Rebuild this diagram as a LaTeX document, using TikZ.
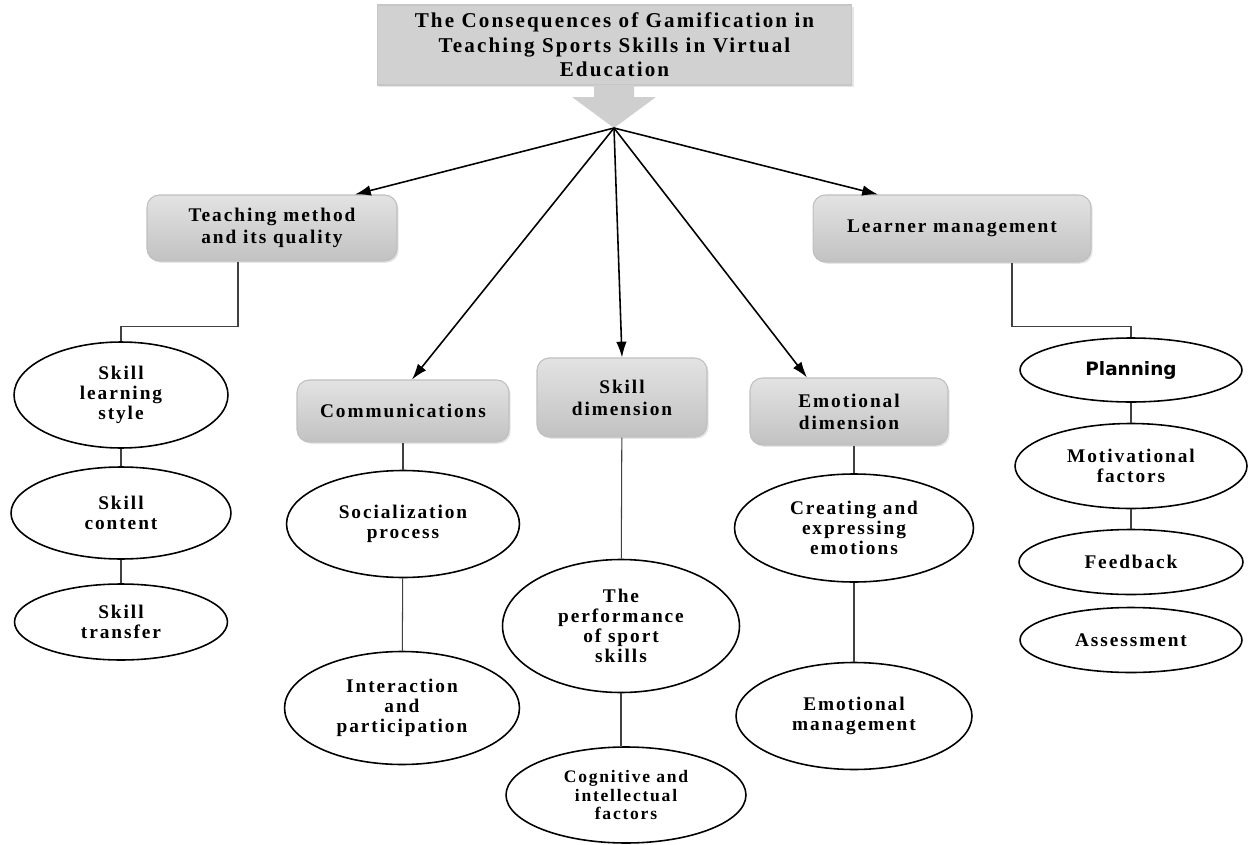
\documentclass[tikz,border=0pt]{standalone}
\usepackage{fontspec}
\setmainfont{Liberation Serif}[LetterSpace=10]
\newfontfamily\plainsans{DejaVu Sans}
\usetikzlibrary{shapes,arrows.meta,shadows}

\begin{document}
\begin{tikzpicture}[x=0.02cm,y=-0.02cm,
  mainbox/.style={shape=rectangle,draw=gray!45,fill=gray!36,align=center,inner sep=2pt,line width=0.6pt,
    font=\bfseries\fontsize{12}{14}\selectfont,drop shadow={opacity=0.2,shadow xshift=1pt,shadow yshift=-1pt}},
  dimbox/.style={shape=rectangle,rounded corners=7pt,draw=gray!50,top color=gray!22,bottom color=gray!48,align=center,line width=0.6pt,
    font=\bfseries\fontsize{11}{12.5}\selectfont,drop shadow={opacity=0.2,shadow xshift=1pt,shadow yshift=-1pt}},
  item/.style={shape=ellipse,draw=black,align=center,inner sep=0pt,line width=0.9pt,font=\bfseries\fontsize{11}{11.5}\selectfont},
  link/.style={-,draw=black!75,line width=0.6pt},
  branch/.style={-{Latex[length=9pt,width=6pt]},draw=black,line width=0.9pt}]
\useasboundingbox (0,0) rectangle (1248,845);

% title and its arrow
\node[mainbox,minimum width=9.5cm,minimum height=1.6cm] (0) at (614.5,45) {The Consequences of Gamification in\\Teaching Sports Skills in Virtual\\Education};
\fill[gray!38] (594,85) -- (634,85) -- (634,97) -- (656,97) -- (614,128) -- (572,97) -- (594,97) -- cycle;
\coordinate (tip) at (614,128);

% dimensions
\node[dimbox,minimum width=5cm,minimum height=1.32cm] (1) at (272,228) {Teaching method\\and its quality};
\node[dimbox,minimum width=5.56cm,minimum height=1.34cm] (2) at (952,228.5) {Learner management};
\node[dimbox,minimum width=4.24cm,minimum height=1.24cm] (3) at (403,411) {Communications};
\node[dimbox,minimum width=3.4cm,minimum height=1.58cm] (4) at (622,397.5) {Skill\\dimension};
\node[dimbox,minimum width=3.96cm,minimum height=1.34cm] (5) at (849,411.5) {Emotional\\dimension};

% components
\node[item,minimum width=4.28cm,minimum height=2.12cm] (6) at (121,395) {Skill\\learning\\style};
\node[item,minimum width=4.4cm,minimum height=1.84cm] (7) at (121,513) {Skill\\content};
\node[item,minimum width=4.26cm,minimum height=1.52cm] (8) at (121,622) {Skill\\transfer};
\node[item,minimum width=4.66cm,minimum height=2.14cm] (9) at (403,524) {Socialization\\process};
\node[item,minimum width=4.7cm,minimum height=2.26cm] (10) at (402,708) {Interaction\\and\\participation};
\node[item,minimum width=4.74cm,minimum height=2.66cm] (11) at (621,626) {The\\performance\\of sport\\skills};
\node[item,minimum width=4.8cm,minimum height=1.92cm,font=\bfseries\fontsize{10}{10.5}\selectfont] (12) at (626,795) {Cognitive and\\intellectual\\factors};
\node[item,minimum width=4.78cm,minimum height=2.16cm] (13) at (854,528) {Creating and\\expressing\\emotions};
\node[item,minimum width=4.72cm,minimum height=2.14cm] (14) at (854,716) {Emotional\\management};
\node[item,minimum width=4.44cm,minimum height=1.28cm,font=\plainsans\bfseries\fontsize{10.5}{12}\selectfont] (15) at (1131,370) {Planning};
\node[item,minimum width=4.64cm,minimum height=1.7cm] (16) at (1131,466) {Motivational\\factors};
\node[item,minimum width=4.48cm,minimum height=1.3cm] (17) at (1131,562) {Feedback};
\node[item,minimum width=4.44cm,minimum height=1.3cm] (18) at (1131,640) {Assessment};

\path (tip) edge[branch] ([xshift=1.66cm]1.north) edge[branch] ([xshift=0.18cm]3.north) edge[branch] (4.north)
  edge[branch] ([xshift=-0.84cm]5.north) edge[branch] ([xshift=-1.48cm]2.north);

\path[link] ([xshift=-0.68cm]1.south) -- ++(0,65) -| (6.north);
\path[link] (6) edge (7) (7) edge (8);
\path[link] (3) edge (9) (9) edge (10);
\path[link] (4) edge (11) (11.south) edge (11.south |- 12.north);
\path[link] (13.north |- 5.south) edge (13.north) (13) edge (14);
\path[link] ([xshift=1.2cm]2.south) -- ++(0,64) -| (15.north);
\path[link] (15) edge (16) (16) edge (17);
\end{tikzpicture}
\end{document}
